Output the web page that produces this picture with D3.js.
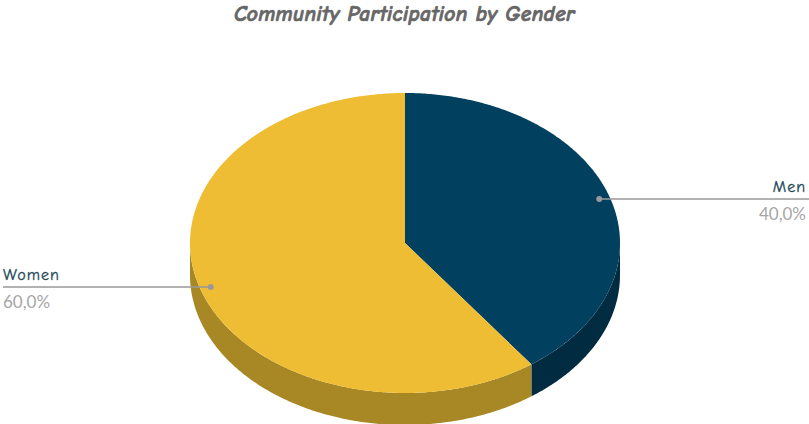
<!DOCTYPE html>
<html><head><meta charset="utf-8">
<script src="https://cdn.jsdelivr.net/npm/d3@7"></script>
<style>body{margin:0;background:#fff}svg{display:block}</style>
</head><body>
<svg id="c" width="809" height="424"></svg>
<script>
const categories = ["Men", "Women"];
const values = [40.0, 60.0];
const valueLabels = ["40,0%", "60,0%"];
const topColors = ["#01405e", "#efbd34"];
const sideColors = ["#002b40", "#a88825"];

const svg = d3.select("#c");
const W = 809, H = 424;
const cx = 405, cy = 243, rx = 215, ry = 150, depth = 32;

const title = svg.append("text").attr("x", W/2).attr("y", 21).attr("text-anchor", "middle")
  .attr("font-family", "'Comic Sans MS','Comic Neue','DejaVu Sans',sans-serif")
  .attr("font-style", "italic").attr("font-weight", "bold").attr("font-size", 21)
  .attr("fill", "#666").attr("stroke", "#666").attr("stroke-width", 0.7)
  .attr("letter-spacing", 0.3)
  .text("Community Participation by Gender");
title.attr("textLength", 341).attr("lengthAdjust", "spacingAndGlyphs");

const pie = d3.pie().sort(null).value(d => d);
const arcs = pie(values);
const pt = (a, k = 1, dy = 0) => [cx + rx * k * Math.sin(a), cy - ry * k * Math.cos(a) + dy];
const line = d3.line();
const sample = (a0, a1, dy) => {
  const n = Math.max(2, Math.ceil(Math.abs(a1 - a0) / 0.01));
  return d3.range(n + 1).map(i => pt(a0 + (a1 - a0) * i / n, 1, dy));
};

// side walls (front half only: angles PI/2 .. 3PI/2)
arcs.forEach((d, i) => {
  const a0 = Math.max(d.startAngle, Math.PI / 2), a1 = Math.min(d.endAngle, 3 * Math.PI / 2);
  if (a1 <= a0) return;
  const pts = sample(a0, a1, 0).concat(sample(a1, a0, depth));
  svg.append("path").attr("d", line(pts) + "Z").attr("fill", sideColors[i]);
});
// top faces
arcs.forEach((d, i) => {
  const pts = [[cx, cy]].concat(sample(d.startAngle, d.endAngle, 0));
  svg.append("path").attr("d", line(pts) + "Z").attr("fill", topColors[i]);
});

// labels
arcs.forEach((d, i) => {
  const mid = (d.startAngle + d.endAngle) / 2;
  const [dx, dy] = pt(mid, 0.95);
  const right = Math.sin(mid) > 0;
  const ex = right ? W : 3;
  svg.append("line").attr("x1", dx).attr("y1", dy).attr("x2", ex).attr("y2", dy)
    .attr("stroke", "#999").attr("stroke-width", 1.5);
  svg.append("circle").attr("cx", dx).attr("cy", dy).attr("r", 3).attr("fill", "#999");
  const tx = right ? W - 3 : 3, anchor = right ? "end" : "start";
  svg.append("text").attr("x", tx).attr("y", dy - 7).attr("text-anchor", anchor)
    .attr("font-family", "'Comic Sans MS','Comic Neue','DejaVu Sans',sans-serif")
    .attr("font-size", 16).attr("letter-spacing", 1).attr("fill", "#1d4756")
    .attr("stroke", "#1d4756").attr("stroke-width", 0.3).text(categories[i]);
  svg.append("text").attr("x", tx).attr("y", dy + 21).attr("text-anchor", anchor)
    .attr("font-family", "Lato, 'Open Sans', sans-serif")
    .attr("font-size", 17).attr("fill", "#a6a6a6").text(valueLabels[i]);
});
</script>
</body></html>
